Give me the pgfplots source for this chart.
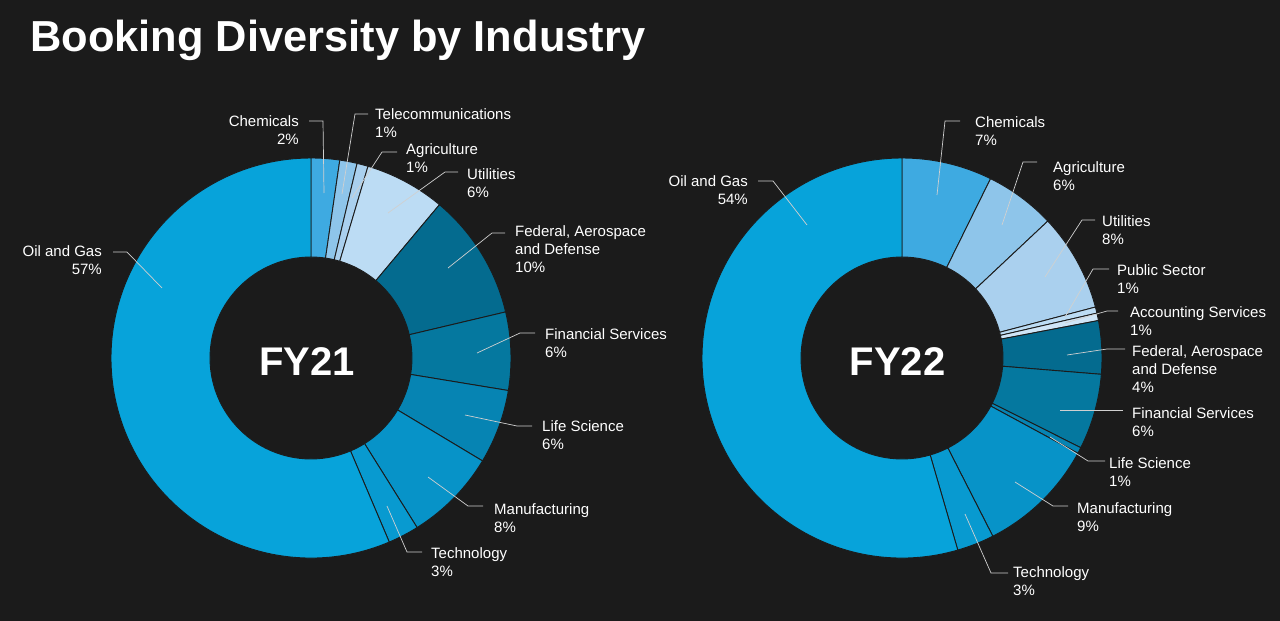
\documentclass[border=0pt]{standalone}
\usepackage{pgfplots}
\usepackage{pgfplotstable}
\usepackage{fontspec}
\setmainfont{Liberation Sans}
\pgfplotsset{compat=1.18}
\definecolor{bg}{HTML}{1B1B1B}
\definecolor{dc1}{HTML}{3EAAE1}
\definecolor{dc2}{HTML}{8EC5EA}
\definecolor{dc3}{HTML}{AAD0EE}
\definecolor{dc4}{HTML}{BCDCF4}
\definecolor{dc5}{HTML}{CFE5F7}
\definecolor{dc6}{HTML}{046B8F}
\definecolor{dc7}{HTML}{05789F}
\definecolor{dc8}{HTML}{0684B3}
\definecolor{dc9}{HTML}{0793C8}
\definecolor{dc10}{HTML}{089AD0}
\definecolor{dc11}{HTML}{07A3DA}
\definecolor{leadc}{HTML}{D0D0D0}

% cx cy = donut centre (px), start = cumulative share before slice (%), share (%), col = colour index
\pgfplotstableread{
cx  cy  start share col
311 358 0    2.3  1
311 358 2.3  1.4  2
311 358 3.7  0.9  3
311 358 4.6  6.5  4
311 358 11.1 10.2 6
311 358 21.3 6.3  7
311 358 27.6 6.0  8
311 358 33.6 7.5  9
311 358 41.1 2.5  10
311 358 43.6 56.4 11
}\fyone
\pgfplotstableread{
cx  cy  start share col
902 358 0    7.3  1
902 358 7.3  5.7  2
902 358 13.0 7.9  3
902 358 20.9 0.5  4
902 358 21.4 0.6  5
902 358 22.0 4.3  6
902 358 26.3 6.1  7
902 358 32.4 0.5  8
902 358 32.9 9.6  9
902 358 42.5 3.0  10
902 358 45.5 54.5 11
}\fytwo

\pgfplotsset{
  donut/.style={
    only marks, scatter, mark=*, mark size=0pt,
    mark options={draw=none, fill=none},
    visualization depends on={\thisrow{start} \as \ps},
    visualization depends on={\thisrow{share} \as \pw},
    visualization depends on={\thisrow{col} \as \pcn},
    scatter/@pre marker code/.code={%
      \pgfmathsetmacro\aS{90-3.6*\ps}%
      \pgfmathsetmacro\aE{90-3.6*(\ps+\pw)}%
      \pgfmathtruncatemacro\ci{round(\pcn)}%
      \filldraw[fill=dc\ci, draw=bg, line width=0.9pt]
        (\aS:200pt) arc[start angle=\aS, end angle=\aE, radius=200pt]
        -- (\aE:101pt) arc[start angle=\aE, end angle=\aS, radius=101pt] -- cycle;
    },
    scatter/@post marker code/.code={},
    forget plot
  },
  lead/.style={draw=leadc, line width=0.7pt, mark=none, forget plot},
}
\tikzset{
  lbl/.style={text=white, inner sep=0pt, font=\fontsize{15}{18}\selectfont},
  big/.style={text=white, inner sep=0pt, font=\fontsize{40}{44}\selectfont\bfseries},
}

\begin{document}
\begin{tikzpicture}
\begin{axis}[
  width=1280pt, height=621pt, scale only axis,
  xmin=0, xmax=1280, ymin=0, ymax=621, y dir=reverse,
  hide axis, clip=false, clip mode=individual,
]
% background
\addplot[fill=bg, draw=none, forget plot] coordinates {(0,0) (1280,0) (1280,621) (0,621)} -- cycle;

% donuts
\addplot[donut] table[x=cx, y=cy] {\fyone};
\addplot[donut] table[x=cx, y=cy] {\fytwo};

% leader lines FY21
\addplot[lead] coordinates {(324,193) (323,121) (309,121)};
\addplot[lead] coordinates {(342,194) (355,114) (368,114)};
\addplot[lead] coordinates {(352,198) (382,152) (397,152)};
\addplot[lead] coordinates {(388,213) (445,172) (458,172)};
\addplot[lead] coordinates {(448,268) (492,233) (505,233)};
\addplot[lead] coordinates {(477,353) (520,333) (535,333)};
\addplot[lead] coordinates {(465,415) (517,426) (532,426)};
\addplot[lead] coordinates {(428,477) (468,506) (483,506)};
\addplot[lead] coordinates {(387,506) (407,552) (422,552)};
\addplot[lead] coordinates {(162,288) (127,252) (113,252)};
% leader lines FY22
\addplot[lead] coordinates {(937,195) (945,121) (960,121)};
\addplot[lead] coordinates {(1002,225) (1023,162) (1037,162)};
\addplot[lead] coordinates {(1045,277) (1082,220) (1095,220)};
\addplot[lead] coordinates {(1065,317) (1093,269) (1109,269)};
\addplot[lead] coordinates {(1065,323) (1107,311) (1118,311)};
\addplot[lead] coordinates {(1067,355) (1107,349) (1125,349)};
\addplot[lead] coordinates {(1060,410) (1123,410)};
\addplot[lead] coordinates {(1050,437) (1088,461) (1105,461)};
\addplot[lead] coordinates {(1015,482) (1053,506) (1068,506)};
\addplot[lead] coordinates {(965,514) (991,573) (1008,573)};
\addplot[lead] coordinates {(807,225) (773,181) (758,181)};

% title
\node[text=white, inner sep=0pt, anchor=base west, font=\fontsize{43.4}{48}\selectfont\bfseries]
  at (axis cs:30,51) {Booking Diversity by Industry};

% centre labels
\node[big, anchor=base] at (axis cs:307,375) {FY21};
\node[big, anchor=base] at (axis cs:897.5,375) {FY22};

% FY21 labels
\node[lbl, anchor=base east] at (axis cs:299,126) {Chemicals};
\node[lbl, anchor=base east] at (axis cs:299,144) {2\%};
\node[lbl, anchor=base west] at (axis cs:375,119) {Telecommunications};
\node[lbl, anchor=base west] at (axis cs:375,137) {1\%};
\node[lbl, anchor=base west] at (axis cs:406,154) {Agriculture};
\node[lbl, anchor=base west] at (axis cs:406,172) {1\%};
\node[lbl, anchor=base west] at (axis cs:467,179) {Utilities};
\node[lbl, anchor=base west] at (axis cs:467,197) {6\%};
\node[lbl, anchor=base west] at (axis cs:515,236) {Federal, Aerospace};
\node[lbl, anchor=base west] at (axis cs:515,254) {and Defense};
\node[lbl, anchor=base west] at (axis cs:515,272) {10\%};
\node[lbl, anchor=base west] at (axis cs:545,339) {Financial Services};
\node[lbl, anchor=base west] at (axis cs:545,357) {6\%};
\node[lbl, anchor=base west] at (axis cs:542,431) {Life Science};
\node[lbl, anchor=base west] at (axis cs:542,449) {6\%};
\node[lbl, anchor=base west] at (axis cs:494,514) {Manufacturing};
\node[lbl, anchor=base west] at (axis cs:494,532) {8\%};
\node[lbl, anchor=base west] at (axis cs:431,558) {Technology};
\node[lbl, anchor=base west] at (axis cs:431,576) {3\%};
\node[lbl, anchor=base east] at (axis cs:102,256) {Oil and Gas};
\node[lbl, anchor=base east] at (axis cs:102,274) {57\%};

% FY22 labels
\node[lbl, anchor=base west] at (axis cs:975,127) {Chemicals};
\node[lbl, anchor=base west] at (axis cs:975,145) {7\%};
\node[lbl, anchor=base west] at (axis cs:1053,172) {Agriculture};
\node[lbl, anchor=base west] at (axis cs:1053,190) {6\%};
\node[lbl, anchor=base west] at (axis cs:1102,226) {Utilities};
\node[lbl, anchor=base west] at (axis cs:1102,244) {8\%};
\node[lbl, anchor=base west] at (axis cs:1117,275) {Public Sector};
\node[lbl, anchor=base west] at (axis cs:1117,293) {1\%};
\node[lbl, anchor=base west] at (axis cs:1130,317) {Accounting Services};
\node[lbl, anchor=base west] at (axis cs:1130,335) {1\%};
\node[lbl, anchor=base west] at (axis cs:1132,356) {Federal, Aerospace};
\node[lbl, anchor=base west] at (axis cs:1132,374) {and Defense};
\node[lbl, anchor=base west] at (axis cs:1132,392) {4\%};
\node[lbl, anchor=base west] at (axis cs:1132,418) {Financial Services};
\node[lbl, anchor=base west] at (axis cs:1132,436) {6\%};
\node[lbl, anchor=base west] at (axis cs:1109,468) {Life Science};
\node[lbl, anchor=base west] at (axis cs:1109,486) {1\%};
\node[lbl, anchor=base west] at (axis cs:1077,513) {Manufacturing};
\node[lbl, anchor=base west] at (axis cs:1077,531) {9\%};
\node[lbl, anchor=base west] at (axis cs:1013,577) {Technology};
\node[lbl, anchor=base west] at (axis cs:1013,595) {3\%};
\node[lbl, anchor=base east] at (axis cs:748,186) {Oil and Gas};
\node[lbl, anchor=base east] at (axis cs:748,204) {54\%};
\end{axis}
\end{tikzpicture}
\end{document}
